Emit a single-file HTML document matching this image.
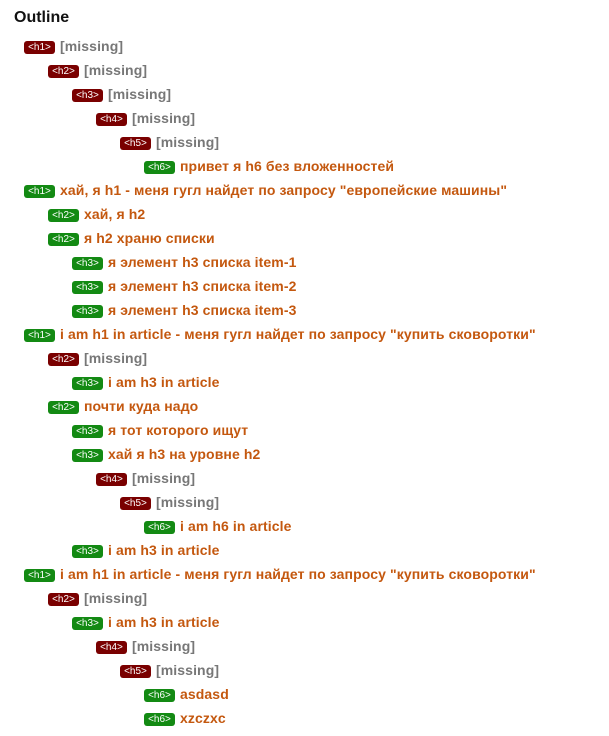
<!DOCTYPE html>
<html><head><meta charset="utf-8"><style>
body{margin:0;width:609px;height:736px;background:#fff;font-family:"Liberation Sans",Arial,sans-serif;position:relative;overflow:hidden}
h3{position:absolute;left:14px;top:9px;margin:0;font-size:16px;font-weight:bold;color:#111}
.r{position:absolute;height:24px;line-height:24px;font-size:14px;font-weight:bold;white-space:nowrap;letter-spacing:0.1px}
.b{display:inline-block;height:13px;line-height:13px;width:31px;text-align:center;border-radius:3px;font-size:10px;font-weight:normal;color:#fff;vertical-align:1px;margin-right:5px;letter-spacing:0}
.m .b{background:#7a0000}.m{color:#777}
.o .b{background:#138a13}.o{color:#c4580f}
</style></head><body>
<h3>Outline</h3>
<div class="r m" style="left:24px;top:34px"><span class="b">&lt;h1&gt;</span>[missing]</div>
<div class="r m" style="left:48px;top:58px"><span class="b">&lt;h2&gt;</span>[missing]</div>
<div class="r m" style="left:72px;top:82px"><span class="b">&lt;h3&gt;</span>[missing]</div>
<div class="r m" style="left:96px;top:106px"><span class="b">&lt;h4&gt;</span>[missing]</div>
<div class="r m" style="left:120px;top:130px"><span class="b">&lt;h5&gt;</span>[missing]</div>
<div class="r o" style="left:144px;top:154px"><span class="b">&lt;h6&gt;</span>привет я h6 без вложенностей</div>
<div class="r o" style="left:24px;top:178px"><span class="b">&lt;h1&gt;</span>хай, я h1 - меня гугл найдет по запросу "европейские машины"</div>
<div class="r o" style="left:48px;top:202px"><span class="b">&lt;h2&gt;</span>хай, я h2</div>
<div class="r o" style="left:48px;top:226px"><span class="b">&lt;h2&gt;</span>я h2 храню списки</div>
<div class="r o" style="left:72px;top:250px"><span class="b">&lt;h3&gt;</span>я элемент h3 списка item-1</div>
<div class="r o" style="left:72px;top:274px"><span class="b">&lt;h3&gt;</span>я элемент h3 списка item-2</div>
<div class="r o" style="left:72px;top:298px"><span class="b">&lt;h3&gt;</span>я элемент h3 списка item-3</div>
<div class="r o" style="left:24px;top:322px"><span class="b">&lt;h1&gt;</span>i am h1 in article - меня гугл найдет по запросу "купить сковоротки"</div>
<div class="r m" style="left:48px;top:346px"><span class="b">&lt;h2&gt;</span>[missing]</div>
<div class="r o" style="left:72px;top:370px"><span class="b">&lt;h3&gt;</span>i am h3 in article</div>
<div class="r o" style="left:48px;top:394px"><span class="b">&lt;h2&gt;</span>почти куда надо</div>
<div class="r o" style="left:72px;top:418px"><span class="b">&lt;h3&gt;</span>я тот которого ищут</div>
<div class="r o" style="left:72px;top:442px"><span class="b">&lt;h3&gt;</span>хай я h3 на уровне h2</div>
<div class="r m" style="left:96px;top:466px"><span class="b">&lt;h4&gt;</span>[missing]</div>
<div class="r m" style="left:120px;top:490px"><span class="b">&lt;h5&gt;</span>[missing]</div>
<div class="r o" style="left:144px;top:514px"><span class="b">&lt;h6&gt;</span>i am h6 in article</div>
<div class="r o" style="left:72px;top:538px"><span class="b">&lt;h3&gt;</span>i am h3 in article</div>
<div class="r o" style="left:24px;top:562px"><span class="b">&lt;h1&gt;</span>i am h1 in article - меня гугл найдет по запросу "купить сковоротки"</div>
<div class="r m" style="left:48px;top:586px"><span class="b">&lt;h2&gt;</span>[missing]</div>
<div class="r o" style="left:72px;top:610px"><span class="b">&lt;h3&gt;</span>i am h3 in article</div>
<div class="r m" style="left:96px;top:634px"><span class="b">&lt;h4&gt;</span>[missing]</div>
<div class="r m" style="left:120px;top:658px"><span class="b">&lt;h5&gt;</span>[missing]</div>
<div class="r o" style="left:144px;top:682px"><span class="b">&lt;h6&gt;</span>asdasd</div>
<div class="r o" style="left:144px;top:706px"><span class="b">&lt;h6&gt;</span>xzczxc</div>
</body></html>
